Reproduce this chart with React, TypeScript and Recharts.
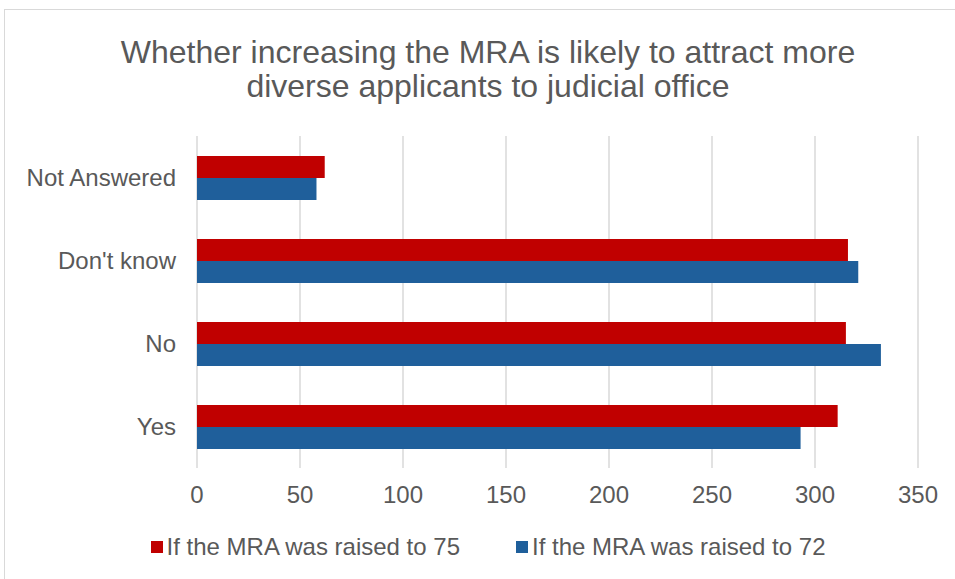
import { BarChart, Bar, XAxis, YAxis, CartesianGrid } from "recharts"

const categories = ["Not Answered", "Don't know", "No", "Yes"]
const raised75 = [62, 316, 315, 311]
const raised72 = [58, 321, 332, 293]
const xTicks = [0, 50, 100, 150, 200, 250, 300, 350]

const RED = "#C00000"
const BLUE = "#1F5F9B"
const TEXT = "#595959"
const FONT = "'Liberation Sans', Arial, sans-serif"

const data = categories.map((c, i) => ({ cat: c, r75: raised75[i], r72: raised72[i] }))

const legendItems = [
  { label: "If the MRA was raised to 75", color: RED },
  { label: "If the MRA was raised to 72", color: BLUE },
]

const LegendBox = () => (
  <div style={{ display: "flex", justifyContent: "center", gap: 56, fontFamily: FONT, fontSize: 24, color: TEXT }}>
    {legendItems.map((it) => (
      <div key={it.label} style={{ display: "flex", alignItems: "center" }}>
        <span style={{ width: 12, height: 12, background: it.color, marginRight: 4 }} />
        {it.label}
      </div>
    ))}
  </div>
)

const App = () => {
  return (
    <div style={{ position: "absolute", left: 0, top: 0, width: 955, height: 579, background: "#fff", overflow: "hidden" }}>
      <div style={{ position: "absolute", left: 4, top: 9, width: 1000, height: 600, border: "1px solid #d9d9d9" }} />
      <div
        style={{
          position: "absolute", left: 0, top: 35, width: 976, textAlign: "center",
          fontFamily: FONT, fontSize: 32, lineHeight: "34px", color: TEXT,
        }}
      >
        Whether increasing the MRA is likely to attract more
        <br />
        diverse applicants to judicial office
      </div>
      <div style={{ position: "absolute", left: 0, top: 0 }}>
        <BarChart
          width={955}
          height={579}
          data={data}
          layout="vertical"
          margin={{ top: 136, right: 37, bottom: 0, left: 0 }}
          barCategoryGap="24%"
          barGap={0}
        >
          <CartesianGrid horizontal={false} stroke="#d9d9d9" strokeWidth={1.5} />
          <XAxis
            type="number"
            domain={[0, 350]}
            ticks={xTicks}
            axisLine={false}
            tickLine={false}
            tickMargin={12}
            height={111}
            tick={{ fontSize: 24, fill: TEXT, fontFamily: FONT }}
          />
          <YAxis
            type="category"
            dataKey="cat"
            width={197}
            axisLine={false}
            tickLine={false}
            tickMargin={15}
            tick={{ fontSize: 24, fill: TEXT, fontFamily: FONT }}
          />
          <Bar dataKey="r75" fill={RED} isAnimationActive={false} />
          <Bar dataKey="r72" fill={BLUE} isAnimationActive={false} />
        </BarChart>
      </div>
      <div style={{ position: "absolute", left: 0, top: 533, width: 976 }}>
        <LegendBox />
      </div>
    </div>
  )
}

export default App
